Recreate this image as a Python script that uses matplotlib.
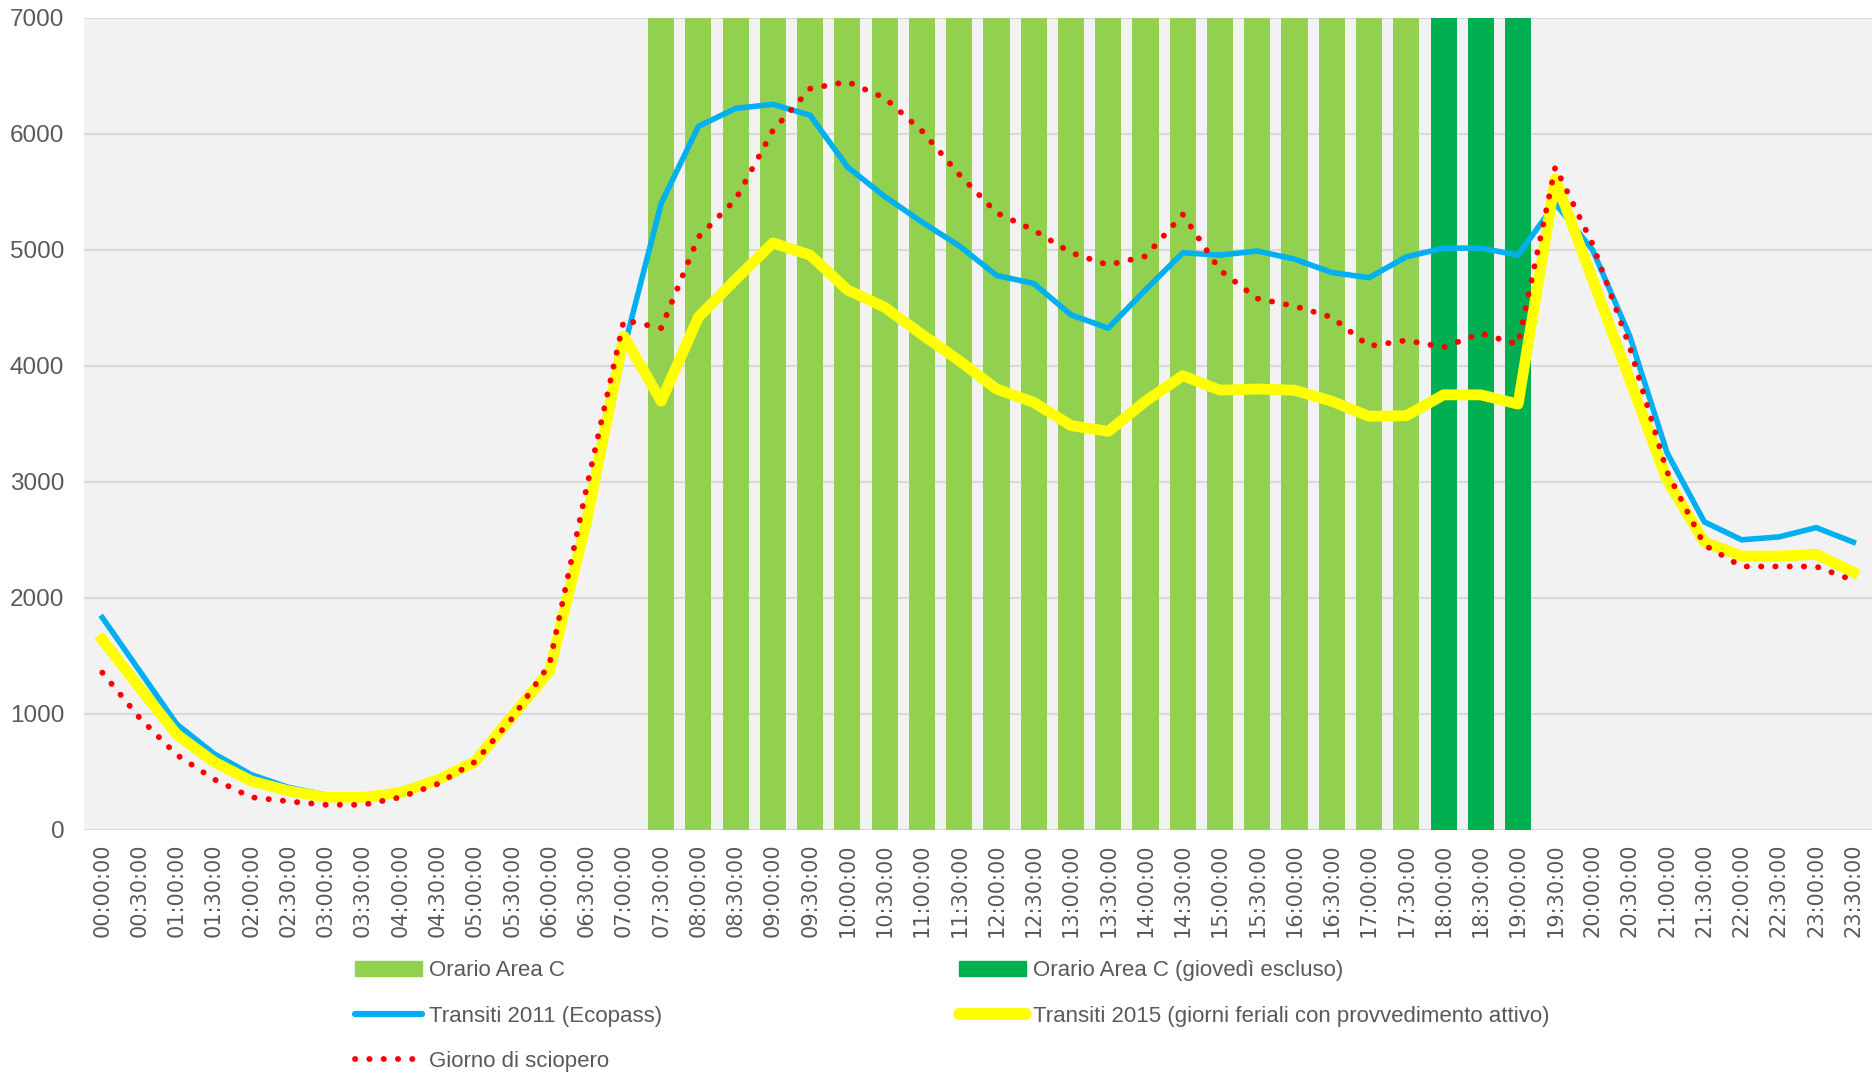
import numpy as np
import matplotlib
matplotlib.use("Agg")
import matplotlib.pyplot as plt
from matplotlib.patches import Patch
from matplotlib.lines import Line2D

# Fasce orarie (asse x)
orari = ["00:00:00", "00:30:00", "01:00:00", "01:30:00", "02:00:00", "02:30:00",
         "03:00:00", "03:30:00", "04:00:00", "04:30:00", "05:00:00", "05:30:00",
         "06:00:00", "06:30:00", "07:00:00", "07:30:00", "08:00:00", "08:30:00",
         "09:00:00", "09:30:00", "10:00:00", "10:30:00", "11:00:00", "11:30:00",
         "12:00:00", "12:30:00", "13:00:00", "13:30:00", "14:00:00", "14:30:00",
         "15:00:00", "15:30:00", "16:00:00", "16:30:00", "17:00:00", "17:30:00",
         "18:00:00", "18:30:00", "19:00:00", "19:30:00", "20:00:00", "20:30:00",
         "21:00:00", "21:30:00", "22:00:00", "22:30:00", "23:00:00", "23:30:00"]

# Fasce con Area C attiva (barre)
orario_area_c = ["07:30:00", "08:00:00", "08:30:00", "09:00:00", "09:30:00", "10:00:00",
                 "10:30:00", "11:00:00", "11:30:00", "12:00:00", "12:30:00", "13:00:00",
                 "13:30:00", "14:00:00", "14:30:00", "15:00:00", "15:30:00", "16:00:00",
                 "16:30:00", "17:00:00", "17:30:00"]
orario_area_c_no_giov = ["18:00:00", "18:30:00", "19:00:00"]
altezza_barre = 7000

transiti_2011 = [1830, 1370, 910, 655, 475, 365, 300, 280, 320, 435, 605, 980,
                 1355, 2660, 4150, 5400, 6065, 6220, 6255, 6160, 5715, 5460, 5240, 5035,
                 4780, 4710, 4440, 4325, 4655, 4975, 4955, 4990, 4920, 4805, 4760, 4940,
                 5015, 5015, 4955, 5400, 5000, 4255, 3250, 2655, 2500, 2525, 2605, 2480]

transiti_2015 = [1640, 1225, 820, 585, 420, 335, 280, 280, 320, 430, 585, 980,
                 1365, 2665, 4255, 3695, 4420, 4745, 5060, 4955, 4655, 4505, 4270, 4045,
                 3800, 3685, 3485, 3435, 3695, 3915, 3790, 3800, 3790, 3695, 3565, 3570,
                 3750, 3750, 3670, 5610, 4745, 3880, 3015, 2480, 2360, 2360, 2375, 2220]

sciopero = [1355, 965, 645, 435, 280, 245, 215, 215, 280, 395, 585, 960,
            1425, 2950, 4395, 4325, 5110, 5435, 6030, 6390, 6450, 6310, 6025, 5650,
            5320, 5170, 4975, 4870, 4945, 5305, 4825, 4580, 4515, 4420, 4170, 4220,
            4160, 4280, 4185, 5715, 5050, 4160, 3085, 2455, 2270, 2270, 2270, 2150]

x = np.arange(len(orari))
pos_c = [orari.index(o) for o in orario_area_c]
pos_c2 = [orari.index(o) for o in orario_area_c_no_giov]

fig = plt.figure(figsize=(18.72, 10.73), dpi=100)
ax = fig.add_axes([0.0447, 0.2267, 0.9553, 0.7566])
ax.set_facecolor("#F2F2F2")

ax.bar(pos_c, [altezza_barre] * len(pos_c), width=0.7, color="#92D050", zorder=2)
ax.bar(pos_c2, [altezza_barre] * len(pos_c2), width=0.7, color="#00B050", zorder=2)

ax.plot(x, transiti_2011, color="#00B0F0", lw=4, zorder=3)
ax.plot(x, transiti_2015, color="#FFFF00", lw=7.8, zorder=4, solid_joinstyle="round")
ax.plot(x, sciopero, color="#FF0000", lw=4.2, zorder=5,
        linestyle=(0, (0.05, 2.4)), dash_capstyle="round")

ax.set_xlim(-0.5, len(orari) - 0.5)
ax.set_ylim(0, 7000)
ax.set_yticks(np.arange(0, 7001, 1000))
ax.yaxis.grid(True, color="#D9D9D9", lw=1.5, zorder=1)
ax.set_axisbelow(True)
for s in ax.spines.values():
    s.set_visible(False)

ax.set_xticks(x)
ax.set_xticklabels(orari, rotation=90, fontsize=15, color="#595959", family="DejaVu Sans")
ax.tick_params(axis="both", length=0)
ax.tick_params(axis="x", pad=10)
ax.tick_params(axis="y", pad=14)
for lab in ax.get_yticklabels():
    lab.set_family("Liberation Sans")
    lab.set_fontsize(17.5)
    lab.set_color("#595959")

handles = [
    Patch(color="#92D050"),
    Line2D([], [], color="#00B0F0", lw=4.5, solid_capstyle="round"),
    Line2D([], [], color="#FF0000", lw=4.2, linestyle=(0, (0.05, 2.4)), dash_capstyle="round"),
    Patch(color="#00B050"),
    Line2D([], [], color="#FFFF00", lw=8.5, solid_capstyle="round"),
]
labels = ["Orario Area C", "Transiti 2011 (Ecopass)", "Giorno di sciopero",
          "Orario Area C (giovedì escluso)", "Transiti 2015 (giorni feriali con provvedimento attivo)"]
leg = fig.legend(handles, labels, ncol=2, loc="upper left", bbox_to_anchor=(0.185, 0.1133),
                 frameon=False, handlelength=3.0, handletextpad=0.3, labelspacing=1.1,
                 columnspacing=13.4, borderaxespad=0,
                 prop={"family": "Liberation Sans", "size": 16})
for t in leg.get_texts():
    t.set_color("#595959")

fig.savefig("out.png", dpi=100)
